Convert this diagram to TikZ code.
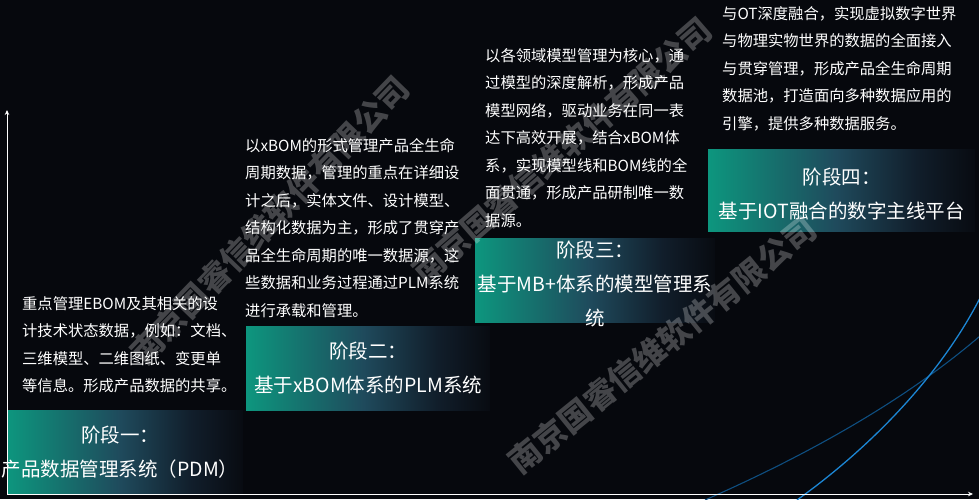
\documentclass[tikz,border=0pt]{standalone}
\usepackage{fontspec}
\setmainfont{Noto Sans CJK SC}
\usetikzlibrary{arrows.meta}
\definecolor{bgdark}{RGB}{6,8,13}
\definecolor{stageteal}{RGB}{13,150,126}
\definecolor{stagemid}{RGB}{31,74,92}
\definecolor{stagenavy}{RGB}{17,30,43}
\definecolor{stageend}{RGB}{8,11,17}
\definecolor{curvebright}{RGB}{28,134,212}
\definecolor{curvedark}{RGB}{14,78,128}
\pgfdeclarehorizontalshading{stageshade}{100bp}{color(0bp)=(stageteal); color(25bp)=(stageteal); color(49bp)=(stagemid); color(64bp)=(stagenavy); color(75bp)=(stageend); color(100bp)=(stageend)}
\tikzset{
  stagebox/.style={draw=none, shading=stageshade, minimum height=84pt, inner sep=0pt, anchor=north west},
  stagetitle/.style={text=white, align=center, inner sep=0pt, font=\fontsize{19.5}{34}\selectfont},
  desc/.style={text=white, align=left, anchor=north west, inner sep=0pt, font=\fontsize{15.3}{27.5}\selectfont},
  axis/.style={-{Stealth[length=5pt,width=4.5pt]}, white!85, line width=0.9pt},
  watermark/.style={text=white, opacity=0.25, font=\fontsize{32}{33}\selectfont\bfseries},
}
\begin{document}
\begin{tikzpicture}[x=1pt, y=-1pt]
\fill[bgdark] (0,0) rectangle (979,499);
\useasboundingbox (0,0) rectangle (979,499);

%Curves
\begin{scope}
\clip (0,0) rectangle (979,499);
\draw[curvedark, line width=1.1pt] (705,500) .. controls (805,456) and (903,402) .. (980,336);
\draw[curvebright, line width=1.3pt] (797,500) .. controls (867,450) and (939,378) .. (980,298);
\end{scope}

%Stages
\node[stagebox, minimum width=236pt] (stage1) at (7,410) {};
\node[stagebox, minimum width=244pt] (stage2) at (246,326) {};
\node[stagebox, minimum width=240pt] (stage3) at (475,238) {};
\node[stagebox, minimum width=267pt, minimum height=82pt] (stage4) at (708,149) {};

\node[stagetitle, xshift=-5pt] (title1) at (stage1.center) {阶段一：\\产品数据管理系统（PDM）};
\node[stagetitle] (title2) at (stage2.center) {阶段二：\\基于xBOM体系的PLM系统};
\node[stagetitle, yshift=-4pt] (title3) at (stage3.center) {阶段三：\\基于MB+体系的模型管理系\\统};
\node[stagetitle, yshift=-4pt] (title4) at (stage4.center) {阶段四：\\基于IOT融合的数字主线平台};

%Descriptions
\node[desc] (desc1) at (22,296) {重点管理EBOM及其相关的设\\计技术状态数据，例如：文档、\\三维模型、二维图纸、变更单\\等信息。形成产品数据的共享。};
\node[desc] (desc2) at (245,138) {以xBOM的形式管理产品全生命\\周期数据，管理的重点在详细设\\计之后，实体文件、设计模型、\\结构化数据为主，形成了贯穿产\\品全生命周期的唯一数据源，这\\些数据和业务过程通过PLM系统\\进行承载和管理。};
\node[desc] (desc3) at (485,48) {以各领域模型管理为核心，通\\过模型的深度解析，形成产品\\模型网络，驱动业务在同一表\\达下高效开展，结合xBOM体\\系，实现模型线和BOM线的全\\面贯通，形成产品研制唯一数\\据源。};
\node[desc] (desc4) at (722,6) {与OT深度融合，实现虚拟数字世界\\与物理实物世界的数据的全面接入\\与贯穿管理，形成产品全生命周期\\数据池，打造面向多种数据应用的\\引擎，提供多种数据服务。};

%Axes
\coordinate (origin) at (7,494);
\coordinate (ytop) at (7,110);
\coordinate (xend) at (973,494);
\draw[axis] (origin) -- (ytop);
\draw[axis] (origin) -- (xend);

%Watermarks
\node[watermark, rotate=46] (mark1) at (270,220) {南京国睿信维软件有限公司};
\node[watermark, rotate=41] (mark2) at (562,150) {南京国睿信维软件有限公司};
\node[watermark, rotate=39] (mark3) at (662,345) {南京国睿信维软件有限公司};
\end{tikzpicture}
\end{document}
